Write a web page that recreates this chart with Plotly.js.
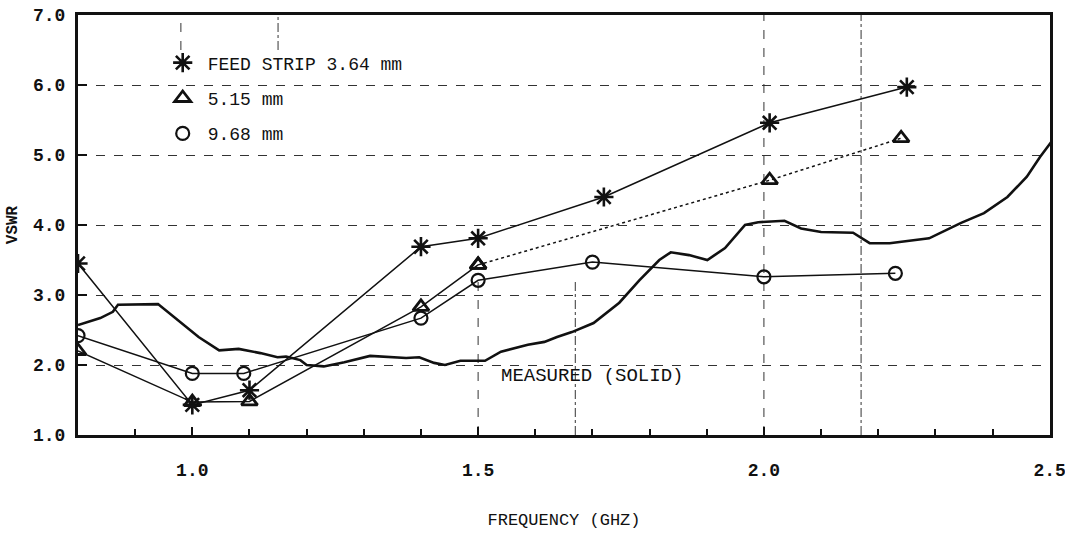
<!DOCTYPE html>
<html>
<head>
<meta charset="utf-8">
<script src="https://cdn.plot.ly/plotly-3.0.1.min.js"></script>
<style>
html,body{margin:0;padding:0;background:#fff;}
#chart{width:1065px;height:540px;}
</style>
</head>
<body>
<div id="chart"></div>
<script>
// ---- data ----
const freqFeed = [0.80, 1.00, 1.10, 1.40, 1.50, 1.72, 2.01, 2.25];
const vswrFeed = [3.45, 1.43, 1.64, 3.69, 3.81, 4.40, 5.46, 5.97];

const freqTri = [0.80, 1.00, 1.10, 1.40, 1.50, 2.01, 2.24];
const vswrTri = [2.20, 1.47, 1.48, 2.83, 3.43, 4.64, 5.24];

const freqCirc = [0.80, 1.00, 1.09, 1.40, 1.50, 1.70, 2.00, 2.23];
const vswrCirc = [2.42, 1.88, 1.88, 2.67, 3.21, 3.47, 3.26, 3.31];

const freqMeas = [0.80, 0.839, 0.861, 0.87, 0.94, 1.011, 1.047, 1.081, 1.119, 1.149, 1.164, 1.189, 1.20, 1.23, 1.266, 1.311, 1.374, 1.397, 1.423, 1.442, 1.469, 1.512, 1.54, 1.587, 1.616, 1.638, 1.664, 1.702, 1.747, 1.782, 1.817, 1.837, 1.869, 1.901, 1.932, 1.967, 1.99, 2.036, 2.065, 2.10, 2.156, 2.185, 2.22, 2.289, 2.345, 2.385, 2.426, 2.46, 2.483, 2.503];
const vswrMeas = [2.57, 2.67, 2.76, 2.86, 2.87, 2.40, 2.21, 2.23, 2.17, 2.11, 2.12, 2.07, 2.00, 1.98, 2.04, 2.13, 2.10, 2.11, 2.03, 2.00, 2.06, 2.06, 2.19, 2.29, 2.33, 2.40, 2.47, 2.60, 2.89, 3.21, 3.50, 3.61, 3.57, 3.50, 3.67, 4.00, 4.04, 4.06, 3.95, 3.90, 3.89, 3.74, 3.74, 3.81, 4.03, 4.17, 4.40, 4.69, 4.97, 5.19];

const legendNames = ['FEED STRIP 3.64 mm', '5.15 mm', '9.68 mm'];
const xTickVals = [1.0, 1.5, 2.0, 2.5];
const xTickText = ['1.0', '1.5', '2.0', '2.5'];
const yTickVals = [1, 2, 3, 4, 5, 6, 7];
const yTickText = ['1.0', '2.0', '3.0', '4.0', '5.0', '6.0', '7.0'];
const vGridLines = [0.98, 1.15, 1.5, 1.67, 2.0, 2.17];
const vGridBottoms = [6.5, 6.5, 1, 1, 1, 1];
const vGridTops = [7, 7, 3.2, 3.2, 7, 7];

// ---- styles ----
const FONT = '"Liberation Mono", "DejaVu Sans Mono", monospace';
const BLACK = '#111';
const starMarker = {symbol: 'asterisk-open', size: 16, color: BLACK, line: {color: BLACK, width: 2.6}};
const triMarker = {symbol: 'triangle-up-open', size: 14, color: BLACK, line: {color: BLACK, width: 2.8}};
const circMarker = {symbol: 'circle-open', size: 13, color: BLACK, line: {color: BLACK, width: 2.2}};

const traces = [
  {x: freqMeas, y: vswrMeas, mode: 'lines', line: {color: BLACK, width: 2.6}, showlegend: false, hoverinfo: 'skip'},
  {x: freqFeed, y: vswrFeed, mode: 'lines+markers', line: {color: BLACK, width: 1.5}, marker: starMarker, showlegend: false},
  {x: freqTri.slice(0, 5), y: vswrTri.slice(0, 5), mode: 'lines+markers', line: {color: BLACK, width: 1.5}, marker: triMarker, showlegend: false},
  {x: freqTri.slice(4), y: vswrTri.slice(4), mode: 'lines+markers', line: {color: BLACK, width: 1.5, dash: 'dot'}, marker: triMarker, showlegend: false},
  {x: freqCirc, y: vswrCirc, mode: 'lines+markers', line: {color: BLACK, width: 1.5}, marker: circMarker, showlegend: false},
  // legend entries
  {x: [null], y: [null], mode: 'markers', marker: starMarker, name: legendNames[0], legendgroup: 'a'},
  {x: [null], y: [null], mode: 'markers', marker: triMarker, name: legendNames[1], legendgroup: 'b'},
  {x: [null], y: [null], mode: 'markers', marker: circMarker, name: legendNames[2], legendgroup: 'c'}
];

const shapes = vGridLines.map((v, i) => ({
  type: 'line', xref: 'x', yref: 'y', x0: v, x1: v, y0: vGridBottoms[i], y1: vGridTops[i],
  line: {color: '#333', width: 1, dash: i % 2 ? 'dashdot' : 'dash'}, layer: 'below'
}));

const layout = {
  width: 1065, height: 540,
  paper_bgcolor: '#fff', plot_bgcolor: '#fff',
  margin: {l: 78, r: 15, t: 15, b: 105},
  font: {family: FONT, color: BLACK, size: 16},
  showlegend: true,
  legend: {
    x: 0.082, y: 0.93, xanchor: 'left', yanchor: 'top',
    bgcolor: 'rgba(0,0,0,0)', borderwidth: 0,
    font: {family: FONT, size: 18, color: BLACK},
    traceorder: 'grouped', tracegroupgap: 9, itemwidth: 40
  },
  xaxis: {
    range: [0.8, 2.5005],
    tickmode: 'array', tickvals: xTickVals, ticktext: xTickText,
    ticks: 'inside', ticklen: 8, tickwidth: 2, tickcolor: BLACK,
    minor: {dtick: 0.1, tick0: 0.8, ticks: 'inside', ticklen: 6, tickwidth: 2, tickcolor: BLACK, showgrid: false},
    showline: true, linecolor: BLACK, linewidth: 3, mirror: true,
    showgrid: false, zeroline: false,
    tickfont: {family: FONT, size: 18, color: BLACK, weight: 'bold'},
    ticklabelstandoff: 16, ticklabeloverflow: 'allow',
    title: {text: 'FREQUENCY (GHZ)', font: {family: FONT, size: 17, color: BLACK}, standoff: 34}
  },
  yaxis: {
    range: [1, 7],
    tickmode: 'array', tickvals: yTickVals, ticktext: yTickText,
    ticks: 'inside', ticklen: 9, tickwidth: 2.5, tickcolor: BLACK,
    showline: true, linecolor: BLACK, linewidth: 3, mirror: true,
    showgrid: true, gridcolor: '#333', gridwidth: 1, griddash: 'dash',
    zeroline: false,
    tickfont: {family: FONT, size: 18, color: BLACK, weight: 'bold'},
    ticklabelstandoff: 6,
    title: {text: 'VSWR', font: {family: FONT, size: 16, color: BLACK, weight: 'bold'}, standoff: 12}
  },
  shapes: shapes,
  annotations: [
    {x: 1.70, y: 1.84, xref: 'x', yref: 'y', text: 'MEASURED (SOLID)', showarrow: false,
     font: {family: FONT, size: 19, color: BLACK}}
  ]
};

Plotly.newPlot('chart', traces, layout, {displayModeBar: false, staticPlot: true});
</script>
</body>
</html>
